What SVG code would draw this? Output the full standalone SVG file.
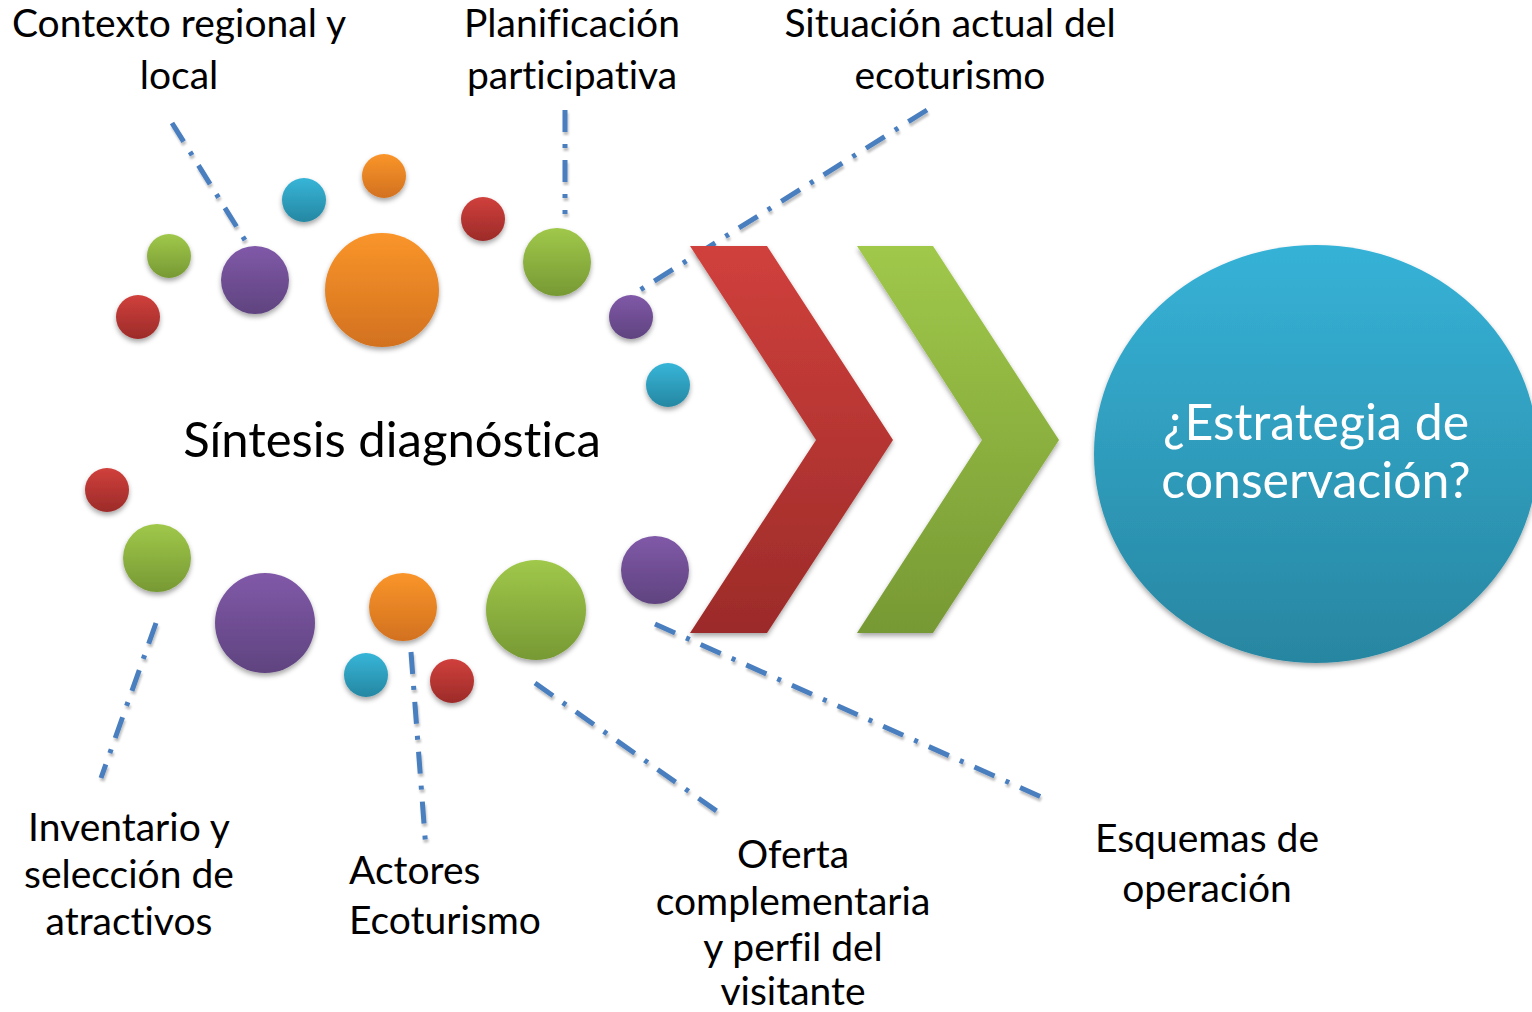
<svg xmlns="http://www.w3.org/2000/svg" width="1532" height="1012" viewBox="0 0 1532 1012">
<defs>
<linearGradient id="gRed" x1="0" y1="0" x2="0" y2="1"><stop offset="0" stop-color="#D0403C"/><stop offset="1" stop-color="#9C2B29"/></linearGradient>
<linearGradient id="gGreen" x1="0" y1="0" x2="0" y2="1"><stop offset="0" stop-color="#A0C84A"/><stop offset="1" stop-color="#779934"/></linearGradient>
<linearGradient id="gPurple" x1="0" y1="0" x2="0" y2="1"><stop offset="0" stop-color="#8059A8"/><stop offset="1" stop-color="#5F437F"/></linearGradient>
<linearGradient id="gCyan" x1="0" y1="0" x2="0" y2="1"><stop offset="0" stop-color="#37B5D8"/><stop offset="1" stop-color="#2587A2"/></linearGradient>
<linearGradient id="gOrange" x1="0" y1="0" x2="0" y2="1"><stop offset="0" stop-color="#FA952A"/><stop offset="1" stop-color="#D2711F"/></linearGradient>
<linearGradient id="gBig" x1="0" y1="0" x2="0" y2="1"><stop offset="0" stop-color="#36B2D7"/><stop offset="1" stop-color="#2886A1"/></linearGradient>
<filter id="sh" x="-20%" y="-20%" width="140%" height="150%"><feDropShadow dx="0" dy="3" stdDeviation="2.5" flood-color="#000" flood-opacity="0.35"/></filter>
<filter id="lsh" x="-10%" y="-10%" width="120%" height="120%"><feDropShadow dx="1" dy="3" stdDeviation="0.8" flood-color="#000" flood-opacity="0.25"/></filter>
</defs>
<style>
.t{font-family:Lato,"Liberation Sans",sans-serif;font-size:39px;fill:#000;text-anchor:middle;font-variant-ligatures:none}
.l{fill:none;stroke:#4A7EBF;stroke-width:5;stroke-dasharray:22 12 4 12}
.w{font-family:Lato,"Liberation Sans",sans-serif;font-size:50px;fill:#fff;text-anchor:middle;font-variant-ligatures:none}
</style>
<rect width="1532" height="1012" fill="#fff"/>

<g id="connectors" filter="url(#lsh)">
<line class="l" x1="172" y1="123" x2="248" y2="245"/>
<line class="l" x1="565" y1="110" x2="565" y2="214"/>
<line class="l" x1="927" y1="110" x2="640" y2="290"/>
<line class="l" x1="156" y1="623" x2="101" y2="778"/>
<line class="l" x1="411" y1="652" x2="426" y2="850"/>
<line class="l" x1="535" y1="683" x2="718" y2="812"/>
<line class="l" x1="655" y1="624" x2="1048" y2="800"/>
</g>

<g id="bubbles" filter="url(#sh)">
<circle cx="169" cy="256" r="22" fill="url(#gGreen)"/>
<circle cx="138" cy="317" r="22" fill="url(#gRed)"/>
<circle cx="255" cy="280" r="34" fill="url(#gPurple)"/>
<circle cx="304" cy="200" r="22" fill="url(#gCyan)"/>
<circle cx="384" cy="176" r="22" fill="url(#gOrange)"/>
<circle cx="382" cy="290" r="57" fill="url(#gOrange)"/>
<circle cx="483" cy="219" r="22" fill="url(#gRed)"/>
<circle cx="557" cy="262" r="34" fill="url(#gGreen)"/>
<circle cx="631" cy="317" r="22" fill="url(#gPurple)"/>
<circle cx="668" cy="385" r="22" fill="url(#gCyan)"/>
<circle cx="107" cy="490" r="22" fill="url(#gRed)"/>
<circle cx="157" cy="558" r="34" fill="url(#gGreen)"/>
<circle cx="265" cy="623" r="50" fill="url(#gPurple)"/>
<circle cx="403" cy="607" r="34" fill="url(#gOrange)"/>
<circle cx="366" cy="675" r="22" fill="url(#gCyan)"/>
<circle cx="452" cy="681" r="22" fill="url(#gRed)"/>
<circle cx="536" cy="610" r="50" fill="url(#gGreen)"/>
<circle cx="655" cy="570" r="34" fill="url(#gPurple)"/>
</g>

<g id="chevron-red" filter="url(#sh)">
<polygon points="690,246 767,246 893,440 767,633 690,633 816,440" fill="url(#gRed)"/>
</g>
<g id="chevron-green" filter="url(#sh)">
<polygon points="857,246 933,246 1059,440 933,633 857,633 982,440" fill="url(#gGreen)"/>
</g>

<g id="estrategia" filter="url(#sh)">
<ellipse cx="1316" cy="454" rx="222" ry="209" fill="url(#gBig)"/>
<text class="w" x="1316" y="440">¿Estrategia de</text>
<text class="w" x="1316" y="498">conservación?</text>
</g>

<g id="sintesis"><text class="t" x="392" y="457" style="font-size:49px">Síntesis diagnóstica</text></g>

<g id="contexto"><text class="t" x="179" y="37">Contexto regional y</text><text class="t" x="179" y="89">local</text></g>
<g id="planificacion"><text class="t" x="572" y="37">Planificación</text><text class="t" x="572" y="89">participativa</text></g>
<g id="situacion"><text class="t" x="950" y="37">Situación actual del</text><text class="t" x="950" y="89">ecoturismo</text></g>
<g id="inventario"><text class="t" x="129" y="841">Inventario y</text><text class="t" x="129" y="888">selección de</text><text class="t" x="129" y="935">atractivos</text></g>
<g id="actores"><text class="t" x="349" y="884" style="text-anchor:start">Actores</text><text class="t" x="349" y="934" style="text-anchor:start">Ecoturismo</text></g>
<g id="oferta"><text class="t" x="793" y="868">Oferta</text><text class="t" x="793" y="915">complementaria</text><text class="t" x="793" y="961">y perfil del</text><text class="t" x="793" y="1005">visitante</text></g>
<g id="esquemas"><text class="t" x="1207" y="852">Esquemas de</text><text class="t" x="1207" y="902">operación</text></g>
</svg>
